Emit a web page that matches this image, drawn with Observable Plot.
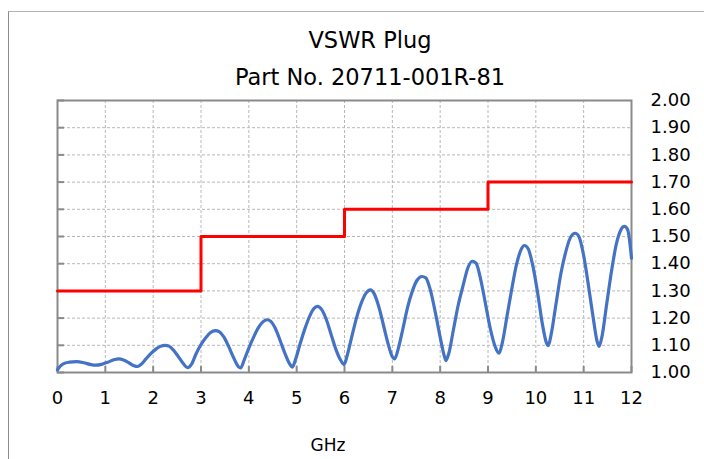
<!DOCTYPE html>
<html>
<head>
<meta charset="utf-8">
<script src="https://cdn.jsdelivr.net/npm/d3@7"></script>
<script src="https://cdn.jsdelivr.net/npm/@observablehq/plot@0.6"></script>
<style>
  html, body { margin: 0; padding: 0; background: #fff; }
  #wrap { position: relative; width: 704px; height: 459px; overflow: hidden; font-family: "DejaVu Sans", Verdana, sans-serif; color: #000; }
  #frame { position: absolute; left: 8px; top: 11px; width: 720px; height: 470px; border-left: 1px solid #8c8c8c; border-top: 1px solid #b4b4b4; }
  #chart { position: absolute; left: 0; top: 0; }
  .ttl { position: absolute; left: 0; width: 740px; text-align: center; font-size: 22.5px; line-height: 22.5px; white-space: nowrap; }
  #xlab { position: absolute; left: 300px; width: 56px; text-align: center; top: 437px; font-size: 17px; line-height: 17px; }
</style>
</head>
<body>
<div id="wrap">
  <div id="frame"></div>
  <div id="chart"></div>
  <div class="ttl" style="top:29px">VSWR Plug</div>
  <div class="ttl" style="top:66px">Part No. 20711-001R-81</div>
  <div id="xlab">GHz</div>
</div>
<script>
// Measured VSWR curve
const freq = [0.00,0.05,0.12,0.25,0.40,0.55,0.70,0.80,0.92,1.05,1.20,1.28,1.38,1.50,1.60,1.67,1.75,1.85,1.95,2.05,2.15,2.25,2.33,2.42,2.52,2.62,2.72,2.80,2.90,3.00,3.10,3.20,3.30,3.38,3.48,3.58,3.68,3.78,3.83,3.90,4.00,4.10,4.20,4.30,4.38,4.46,4.56,4.66,4.76,4.86,4.91,4.98,5.08,5.18,5.28,5.36,5.43,5.52,5.62,5.72,5.82,5.92,5.99,6.06,6.15,6.25,6.35,6.45,6.54,6.62,6.72,6.82,6.92,7.00,7.05,7.12,7.22,7.32,7.42,7.52,7.62,7.70,7.80,7.90,8.00,8.08,8.12,8.18,8.28,8.38,8.48,8.58,8.67,8.75,8.85,8.95,9.05,9.15,9.23,9.30,9.40,9.50,9.60,9.70,9.76,9.84,9.94,10.04,10.14,10.22,10.26,10.32,10.42,10.52,10.62,10.72,10.82,10.90,11.00,11.10,11.20,11.28,11.32,11.38,11.48,11.58,11.68,11.78,11.85,11.92,12.00];
const vswr = [1.010,1.022,1.032,1.038,1.040,1.036,1.029,1.027,1.030,1.038,1.048,1.050,1.046,1.035,1.025,1.022,1.030,1.050,1.069,1.085,1.096,1.100,1.097,1.083,1.060,1.035,1.018,1.030,1.070,1.103,1.128,1.147,1.154,1.150,1.130,1.095,1.055,1.022,1.017,1.045,1.090,1.130,1.165,1.187,1.194,1.188,1.160,1.115,1.068,1.030,1.020,1.050,1.110,1.165,1.210,1.235,1.243,1.232,1.195,1.140,1.085,1.045,1.029,1.065,1.130,1.200,1.255,1.292,1.304,1.290,1.240,1.170,1.100,1.058,1.050,1.085,1.160,1.240,1.300,1.340,1.353,1.348,1.300,1.220,1.130,1.065,1.044,1.070,1.160,1.250,1.320,1.385,1.409,1.402,1.340,1.250,1.160,1.095,1.071,1.110,1.210,1.310,1.400,1.455,1.467,1.455,1.390,1.290,1.175,1.110,1.099,1.140,1.250,1.360,1.440,1.495,1.512,1.500,1.430,1.320,1.200,1.115,1.096,1.130,1.250,1.370,1.470,1.525,1.537,1.525,1.420];

// Specification limit (step)
const limitFreq = [0, 3, 6, 9, 12];
const limitVswr = [1.30, 1.50, 1.60, 1.70, 1.70];

// Tick values
const xTicks = [0,1,2,3,4,5,6,7,8,9,10,11,12];
const yTicks = [1.00,1.10,1.20,1.30,1.40,1.50,1.60,1.70,1.80,1.90,2.00];

const curve = freq.map((f, i) => ({f, v: vswr[i]}));
const limit = limitFreq.map((f, i) => ({f, v: limitVswr[i]}));

const W = 704, H = 459, mT = 100, mB = 87, mL = 57, mR = 73;
const innerW = W - mL - mR, innerH = H - mT - mB;

const chart = Plot.plot({
  width: W, height: H,
  marginTop: mT, marginBottom: mB, marginLeft: mL, marginRight: mR,
  style: {fontFamily: "'DejaVu Sans', Verdana, sans-serif", fontSize: "18px", color: "#000", background: "transparent", overflow: "visible"},
  x: {domain: [0, 12]},
  y: {domain: [1, 2]},
  marks: [
    Plot.gridX(xTicks.slice(1, -1), {stroke: "#b8b8b8", strokeOpacity: 1, strokeDasharray: "3,2", strokeWidth: 1}),
    Plot.gridY(yTicks.slice(1, -1), {stroke: "#b8b8b8", strokeOpacity: 1, strokeDasharray: "3,2", strokeWidth: 1}),
    Plot.tickY(yTicks, {y: d => d, stroke: "#8a8a8a", strokeWidth: 2, insetRight: innerW - 7}),
    Plot.tickX(xTicks, {x: d => d, stroke: "#8a8a8a", strokeWidth: 2, insetTop: innerH - 6}),
    Plot.axisX(xTicks, {anchor: "bottom", tickSize: 0, tickPadding: 19, label: null, tickFormat: d => String(d)}),
    Plot.axisY(yTicks, {anchor: "right", tickSize: 0, tickPadding: 19, label: null, tickFormat: d => d.toFixed(2)}),
    Plot.frame({stroke: "#8a8a8a", strokeWidth: 2}),
    Plot.line(limit, {x: "f", y: "v", curve: "step-after", stroke: "#ff0000", strokeWidth: 3}),
    Plot.line(curve, {x: "f", y: "v", curve: "monotone-x", stroke: "#4472c4", strokeWidth: 3.2, strokeLinejoin: "round", strokeLinecap: "round"})
  ]
});
document.getElementById("chart").appendChild(chart);
</script>
</body>
</html>
